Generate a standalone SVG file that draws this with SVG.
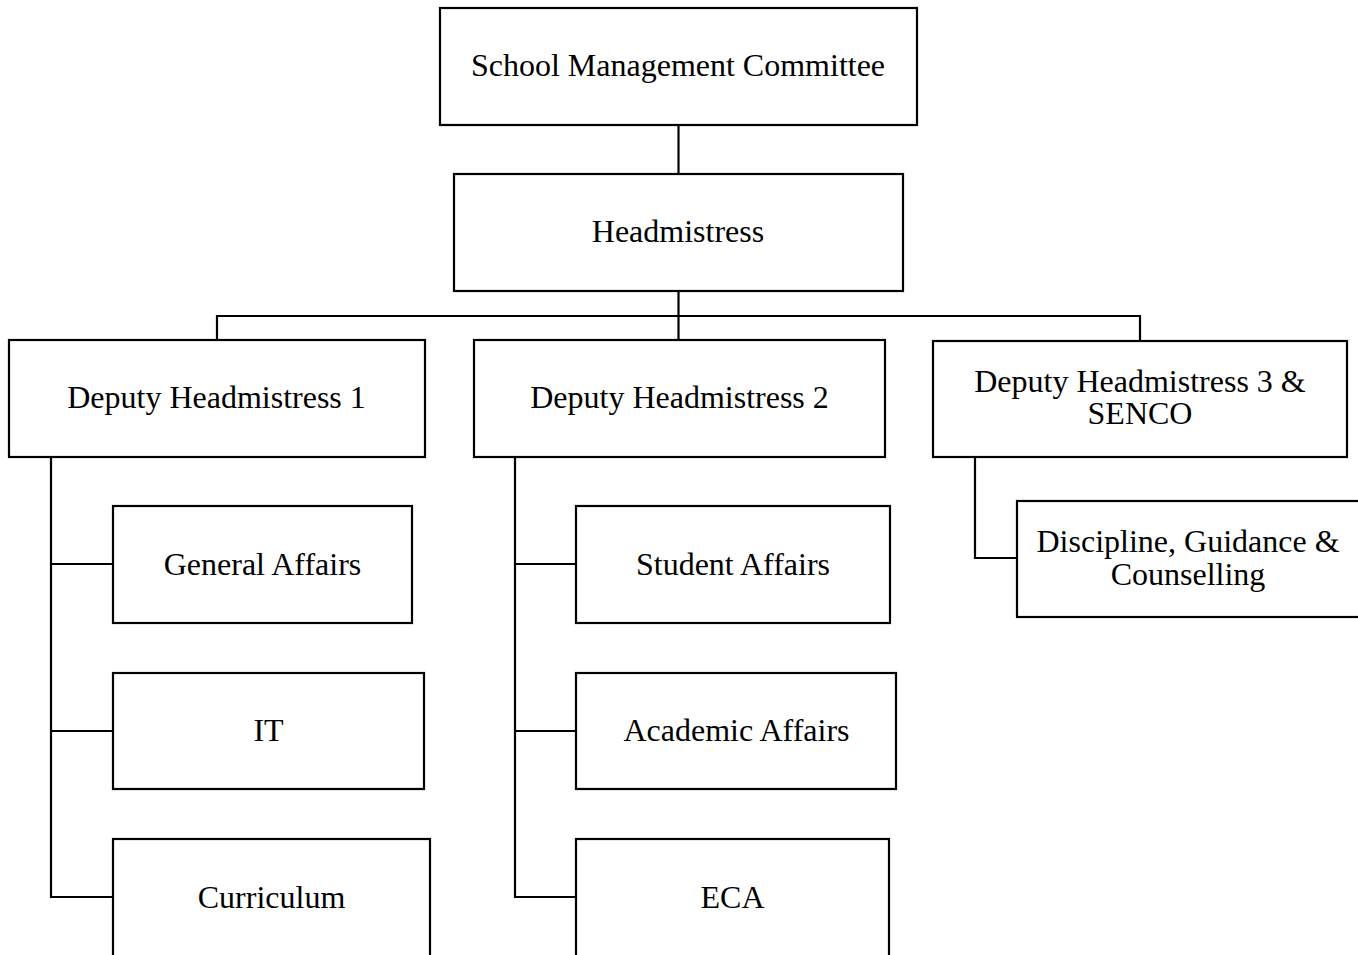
<svg xmlns="http://www.w3.org/2000/svg" width="1358" height="955" viewBox="0 0 1358 955">
<style>
.box{fill:#fff;stroke:#000;stroke-width:2.2}
.ln{fill:none;stroke:#000;stroke-width:2.2}
text{font-family:"Liberation Serif","Times New Roman",serif;font-size:32px;fill:#000;text-anchor:middle}
</style>
<rect width="1358" height="955" fill="#fff"/>
<g id="connectors">
<path class="ln" d="M678.5 125V174"/>
<path class="ln" d="M678.5 291V340M217 340V316H1140V341"/>
<path class="ln" d="M51 457V897H113M51 564H113M51 731H113"/>
<path class="ln" d="M515 457V897H576M515 564H576M515 731H576"/>
<path class="ln" d="M975 457V558H1017"/>
</g>
<g id="smc"><rect class="box" x="440" y="8" width="477" height="117"/><text x="678" y="76">School Management Committee</text></g>
<g id="head"><rect class="box" x="454" y="174" width="449" height="117"/><text x="678" y="242">Headmistress</text></g>
<g id="dh1"><rect class="box" x="9" y="340" width="416" height="117"/><text x="216.5" y="408">Deputy Headmistress 1</text></g>
<g id="dh2"><rect class="box" x="474" y="340" width="411" height="117"/><text x="679.5" y="408">Deputy Headmistress 2</text></g>
<g id="dh3"><rect class="box" x="933" y="341" width="414" height="116"/><text x="1140" y="392">Deputy Headmistress 3 &amp;</text><text x="1140" y="424">SENCO</text></g>
<g id="dgc"><rect class="box" x="1017" y="501" width="343" height="116"/><text x="1188" y="552">Discipline, Guidance &amp;</text><text x="1188" y="585">Counselling</text></g>
<g id="ga"><rect class="box" x="113" y="506" width="299" height="117"/><text x="262.5" y="575">General Affairs</text></g>
<g id="it"><rect class="box" x="113" y="673" width="311" height="116"/><text x="268.5" y="741">IT</text></g>
<g id="cur"><rect class="box" x="113" y="839" width="317" height="130"/><text x="271.5" y="908">Curriculum</text></g>
<g id="sa"><rect class="box" x="576" y="506" width="314" height="117"/><text x="733" y="575">Student Affairs</text></g>
<g id="aa"><rect class="box" x="576" y="673" width="320" height="116"/><text x="736.5" y="741">Academic Affairs</text></g>
<g id="eca"><rect class="box" x="576" y="839" width="313" height="130"/><text x="732.5" y="908">ECA</text></g>
</svg>
